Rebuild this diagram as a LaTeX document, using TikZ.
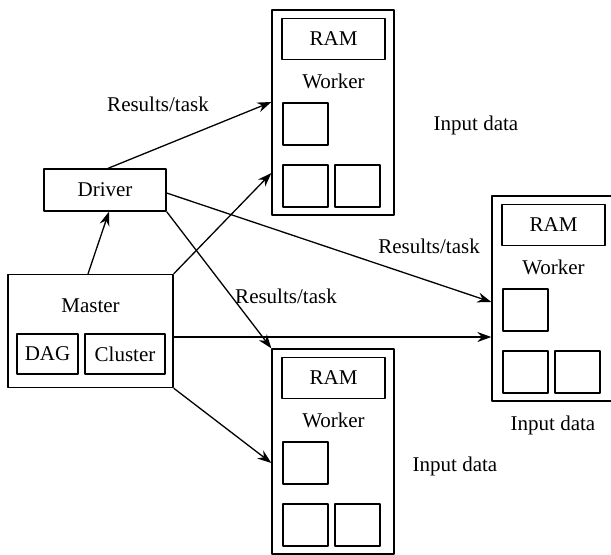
\documentclass[tikz,border=0pt]{standalone}
\usepackage{fontspec}
\setmainfont{Liberation Serif}
\usetikzlibrary{arrows.meta}
\begin{document}
\begin{tikzpicture}[x=0.5pt, y=-0.5pt, font=\fontsize{10.5}{12}\selectfont, line width=0.65pt, line join=round, >={Stealth[length=7pt,width=5pt]},
box/.style={draw, inner sep=0pt},
lbl/.style={inner sep=0pt}]
\useasboundingbox (0,0) rectangle (611,554);
% workers
\foreach \w/\x/\y in {wa/272/10, wb/492/196, wc/272/349}{
\node[box, minimum width=61pt, minimum height=102.5pt] (\w) at (\x+61,\y+102.5) {};
\node[box, minimum width=51.5pt, minimum height=20.5pt] (\w ram) at (\x+61.5,\y+29) {RAM};
\node[lbl] (\w lbl) at (\x+61.5,\y+71) {Worker};
\node[box, minimum width=22.5pt, minimum height=21pt] (\w a) at (\x+33.5,\y+114) {};
\node[box, minimum width=22.5pt, minimum height=21pt] (\w b) at (\x+33.5,\y+176) {};
\node[box, minimum width=22.5pt, minimum height=21pt] (\w c) at (\x+85.5,\y+176) {};
}
% driver and master
\node[box, minimum width=61pt, minimum height=21pt] (driver) at (105,190) {Driver};
\node[box, minimum width=82.5pt, minimum height=56.5pt] (master) at (90.5,331) {};
\node[lbl] (mlbl) at (90.5,306) {Master};
\node[box, minimum width=30.5pt, minimum height=20pt] (dag) at (47.5,354) {DAG};
\node[box, minimum width=40pt, minimum height=20pt] (cluster) at (125,354) {Cluster};
% labels
\node[lbl] (r1) at (158,104) {Results/task};
\node[lbl] (r2) at (429,246) {Results/task};
\node[lbl] (r3) at (286,296) {Results/task};
\node[lbl] (i1) at (476,125) {Input data};
\node[lbl] (i2) at (553,425) {Input data};
\node[lbl] (i3) at (455,466) {Input data};
% connectors
\draw[->] ([xshift=-1.25pt]master.north) -- ([xshift=2pt]driver.south);
\draw[->] ([xshift=1.5pt]driver.north) -- ([yshift=5.25pt]wa.west);
\draw[->] (master.north east) -- ([yshift=-30.25pt]wa.west);
\draw[->] ([yshift=-1.5pt]driver.east) -- ([yshift=-1.75pt]wb.west);
\draw[->] ([yshift=-3pt]master.east) -- ([yshift=-19.25pt]wb.west);
\draw[->] (driver.south east) -- (wc.north west);
\draw[->] (master.south east) -- ([yshift=-5.75pt]wc.west);
\end{tikzpicture}
\end{document}
